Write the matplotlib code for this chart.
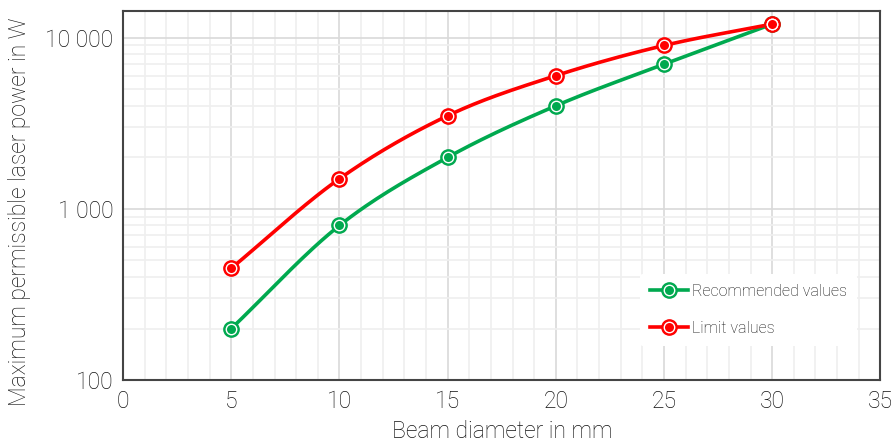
import numpy as np
import matplotlib
matplotlib.use("Agg")
import matplotlib.pyplot as plt
from matplotlib.ticker import FixedLocator, FuncFormatter, LogLocator, MultipleLocator

# beam diameter (mm) and max permissible power (W)
diameter = [5, 10, 15, 20, 25, 30]
recommended = [200, 800, 2000, 4000, 7000, 12000]
limit = [450, 1500, 3500, 6000, 9000, 12000]

green = "#00a94f"
red = "#ff0000"
txt = "#111111"

plt.rcParams["font.family"] = ["Roboto", "DejaVu Sans"]
plt.rcParams["font.weight"] = "light"
plt.rcParams["axes.labelweight"] = "light"


def smooth(x, y, n=30):
    # catmull-rom through the points in (x, log y) space, just for the line shape
    x = np.asarray(x, float)
    ly = np.log10(y)
    xs, ys = [], []
    for i in range(len(x) - 1):
        p0 = ly[i - 1] if i > 0 else 2 * ly[i] - ly[i + 1]
        p3 = ly[i + 2] if i + 2 < len(x) else 2 * ly[i + 1] - ly[i]
        p1, p2 = ly[i], ly[i + 1]
        t = np.linspace(0, 1, n)
        seg = 0.5 * ((2 * p1) + (-p0 + p2) * t
                     + (2 * p0 - 5 * p1 + 4 * p2 - p3) * t ** 2
                     + (-p0 + 3 * p1 - 3 * p2 + p3) * t ** 3)
        xs.append(x[i] + (x[i + 1] - x[i]) * t)
        ys.append(seg)
    return np.concatenate(xs), 10 ** np.concatenate(ys)


fig = plt.figure(figsize=(8.92, 4.42), dpi=100)
ax = fig.add_axes([0.138, 0.140, 0.849, 0.835])

handles = []
for vals, col, name in [(recommended, green, "Recommended values"), (limit, red, "Limit values")]:
    sx, sy = smooth(diameter, vals)
    ln, = ax.plot(sx, sy, color=col, lw=2.6, zorder=3)
    outer, = ax.plot(diameter, vals, "o", ms=11, mfc=col, mec=col, zorder=4)
    inner, = ax.plot(diameter, vals, "o", ms=7.5, mfc=col, mec="white", mew=1, zorder=5)
    handles.append(((ln, outer, inner), name))

ax.set_yscale("log")
ax.set_xlim(0, 35)
ax.set_ylim(100, 14300)

ax.xaxis.set_major_locator(MultipleLocator(5))
ax.xaxis.set_minor_locator(MultipleLocator(1))
ax.yaxis.set_major_locator(FixedLocator([100, 1000, 10000]))
ax.yaxis.set_minor_locator(LogLocator(base=10, subs=np.arange(2, 10)))
ax.yaxis.set_major_formatter(FuncFormatter(lambda v, p: f"{int(v):,}".replace(",", " ")))
ax.yaxis.set_minor_formatter(FuncFormatter(lambda v, p: ""))

ax.grid(which="major", color="#d9d9d9", lw=1.2)
ax.grid(which="minor", color="#efefef", lw=1.2)
ax.set_axisbelow(True)

ax.tick_params(which="both", length=0, labelsize=16.5, labelcolor=txt)
ax.tick_params(axis="x", pad=7)
ax.tick_params(axis="y", pad=7)
for s in ax.spines.values():
    s.set_color("#444444")
    s.set_linewidth(1.5)

ax.set_xlabel("Beam diameter in mm", fontsize=16.5, color=txt, labelpad=5)
fig.text(0.022, 0.52, "Maximum permissible laser power in W", rotation=90,
         ha="center", va="center", fontsize=16.5, color=txt)

leg = ax.legend([h for h, _ in handles], [n for _, n in handles], loc="lower right",
                bbox_to_anchor=(0.979, 0.072), frameon=True, framealpha=1, edgecolor="none",
                fontsize=11.5, handlelength=2.4, labelspacing=1.4, handletextpad=0.25,
                borderpad=0.6)
for t in leg.get_texts():
    t.set_color(txt)

fig.savefig("out.png", dpi=100)
